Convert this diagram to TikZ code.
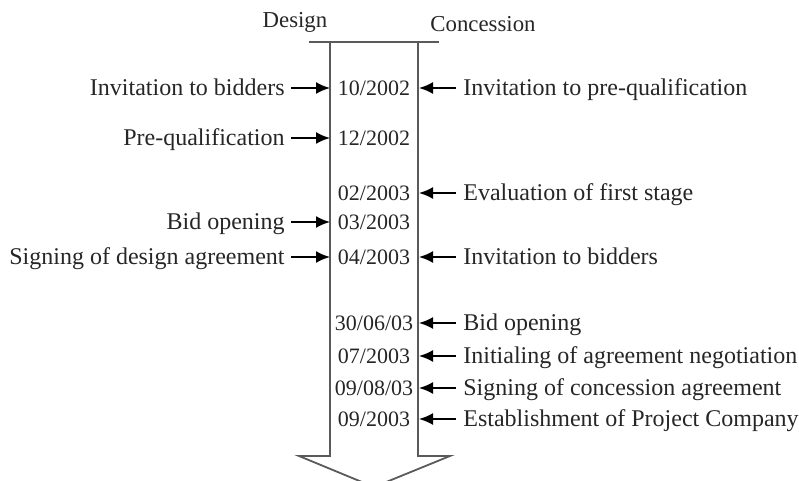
\documentclass[tikz,border=0pt]{standalone}
\usepackage{fontspec}
\setmainfont{Liberation Serif}
\usetikzlibrary{arrows.meta}
\definecolor{shaftgray}{HTML}{5A5A5A}
\definecolor{inkgray}{HTML}{262626}
\tikzset{
  shaftline/.style={shaftgray, line width=0.9pt},
  eventarrow/.style={black, -{Latex[length=7pt,width=6pt]}, line width=1pt},
  datelabel/.style={inkgray, font=\fontsize{11}{13}\selectfont, inner sep=2pt},
  eventlabel/.style={inkgray, font=\fontsize{12}{14}\selectfont, inner sep=2pt},
  headlabel/.style={inkgray, font=\fontsize{11.4}{13}\selectfont, inner sep=0pt}
}
\begin{document}
\begin{tikzpicture}[x=0.5pt,y=-0.5pt]
  \useasboundingbox (0,0) rectangle (799,481);
  \coordinate (L) at (330,0);
  \coordinate (R) at (418,0);
  \coordinate (LL) at (289,0);
  \coordinate (RR) at (459,0);
  % hollow time arrow
  \draw[shaftline] (309,42) -- (439,42);
  \draw[shaftline, line join=miter] (L |- 0,42) -- (L |- 0,456) -- (299,456) -- (374,487)
    -- (450,456) -- (R |- 0,456) -- (R |- 0,42);
  \node[headlabel] (design) at (295,22) {Design};
  \node[headlabel] (concession) at (483,24) {Concession};
  % dates
  \foreach \d/\yy [count=\i] in {{10/2002}/88,{12/2002}/138,{02/2003}/193,{03/2003}/222,
      {04/2003}/257,{30/06/03}/323,{07/2003}/356,{09/08/03}/388,{09/2003}/419}{
    \node[datelabel] (d\i) at (374,\yy) {\d};
  }
  % design events
  \foreach \n/\t in {1/Invitation to bidders,2/Pre-qualification,4/Bid opening,
      5/Signing of design agreement}{
    \node[eventlabel, anchor=base east] (l\n) at (LL |- d\n.base) {\t};
    \draw[eventarrow, shorten <=1pt] (l\n.east |- d\n) -- (L |- d\n);
  }
  % concession events
  \foreach \n/\t in {1/Invitation to pre-qualification,3/Evaluation of first stage,
      5/Invitation to bidders,6/Bid opening,7/Initialing of agreement negotiation,
      8/Signing of concession agreement,9/Establishment of Project Company}{
    \node[eventlabel, anchor=base west] (r\n) at (RR |- d\n.base) {\t};
    \draw[eventarrow, shorten <=1.5pt, shorten >=0.5pt] (r\n.west |- d\n) -- (R |- d\n);
  }
\end{tikzpicture}
\end{document}
